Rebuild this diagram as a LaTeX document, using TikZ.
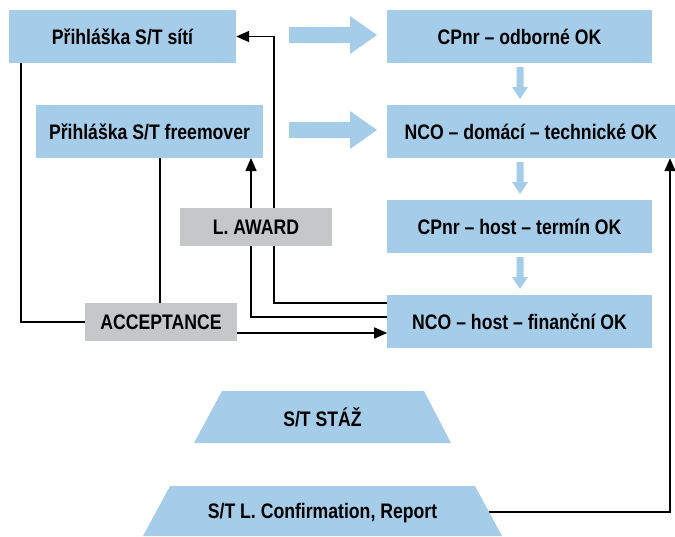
\documentclass[tikz,border=0pt]{standalone}
\usepackage{fontspec}
\setmainfont{Liberation Sans}[FakeStretch=0.84]
\usetikzlibrary{arrows.meta,backgrounds}
\definecolor{lblue}{HTML}{A5CCE9}
\definecolor{lgray}{HTML}{C6C7C9}
\tikzset{
  lab/.style={font=\fontsize{21}{24}\selectfont\bfseries},
  bluebox/.style={lab, fill=lblue, minimum width=227pt, minimum height=53pt, inner sep=0pt},
  rbox/.style={bluebox, minimum width=265pt},
  graybox/.style={lab, fill=lgray, minimum width=152pt, minimum height=38pt, inner sep=0pt},
  txt/.style={lab, inner sep=0pt},
  conn/.style={line width=1.5pt, draw=black},
  arr/.style={conn, -{Triangle[length=13pt,width=11pt]}},
}
\begin{document}
\begin{tikzpicture}[x=1pt,y=-1pt]
\useasboundingbox (0,0) rectangle (675,536);
% boxes
\node[bluebox] (sit) at (122.5,36.5) {Přihláška S/T sítí};
\node[bluebox] (free) at (149.5,131.5) {Přihláška S/T freemover};
\node[rbox] (a) at (519.5,36.5) {CPnr – odborné OK};
\node[rbox, minimum width=288pt] (b) at (531,131.5) {NCO – domácí – technické OK};
\node[rbox] (c) at (519.5,226.5) {CPnr – host – termín OK};
\node[rbox] (d) at (519.5,321.5) {NCO – host – finanční OK};
\node[graybox] (acc) at (161,322) {ACCEPTANCE};
\node[graybox] (award) at (256,227) {L. AWARD};
% trapezoids
\fill[lblue] (222,391) -- (424,391) -- (451,443) -- (194,443) -- cycle;
\node[txt] (staz) at (322.5,417) {S/T STÁŽ};
\fill[lblue] (170,486) -- (475,486) -- (502,536) -- (143,536) -- cycle;
\node[txt] (conf) at (322.5,513) {S/T L. Confirmation, Report};
\coordinate (confr) at (489,512);
% big arrows
\fill[lblue] (289,27) -- (350,27) -- (350,16) -- (377,35) -- (350,54) -- (350,43) -- (289,43) -- cycle;
\fill[lblue] (289,122) -- (350,122) -- (350,111) -- (377,130) -- (350,149) -- (350,138) -- (289,138) -- cycle;
% small arrows
\foreach \y in {67,162,257}{
  \fill[lblue] (516.5,\y) -- (523.5,\y) -- (523.5,\y+20) -- (528,\y+20) -- (520,\y+32) -- (512,\y+20) -- (516.5,\y+20) -- cycle;
}
% connectors
\begin{scope}[on background layer]
\draw[conn] (sit.south west) ++(12,0) |- (acc.west);
\draw[conn] (free.south west) ++(124,0) -- ++(0,145);
\draw[arr] (d.west) ++(0,-18.5) -| (274,36.5) -- (sit.east);
\draw[arr] (d.west) ++(0,-4.5) -| (251,158);
\draw[arr] (acc.east) ++(0,11) -- ++(150,0);
\draw[arr] (confr) -| (b.south -| 670,0);
\end{scope}
\end{tikzpicture}
\end{document}
